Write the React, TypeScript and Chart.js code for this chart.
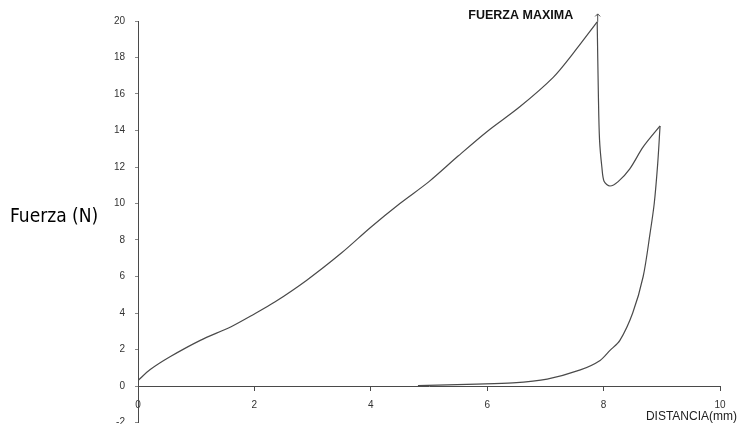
import React, { useEffect, useRef } from "react";
import { Chart, registerables } from "chart.js";

Chart.register(...registerables);

// Loading curve (distance mm, force N)
const loadX = [0, 0.21, 0.55, 1.07, 1.6, 2.0, 2.35, 2.9, 3.5, 4.0, 4.5, 5.0, 5.5, 6.0, 6.56, 7.13, 7.47, 7.89];
const loadY = [0.3, 0.9, 1.6, 2.5, 3.25, 3.95, 4.6, 5.8, 7.3, 8.7, 10.0, 11.2, 12.6, 13.95, 15.3, 16.9, 18.2, 19.95];

// Drop after maximum force and second rise
const dropX = [7.89, 7.91, 7.93, 7.97, 8.01, 8.11, 8.25, 8.45, 8.68, 8.97];
const dropY = [19.95, 16.0, 13.5, 12.0, 11.2, 10.96, 11.2, 11.9, 13.1, 14.25];

// Return (unloading) curve
const returnX = [8.97, 8.93, 8.87, 8.8, 8.68, 8.5, 8.28, 8.11, 7.94, 7.6, 7.03, 6.44, 5.82, 4.81];
const returnY = [14.25, 12.2, 10.0, 8.4, 6.0, 4.0, 2.5, 1.95, 1.4, 0.88, 0.38, 0.17, 0.1, 0.02];

const xTicks = [0, 2, 4, 6, 8, 10];
const yTicks = [-2, 0, 2, 4, 6, 8, 10, 12, 14, 16, 18, 20];

const yTitle = "Fuerza (N)";
const xTitle = "DISTANCIA(mm)";
const peakLabel = "FUERZA MAXIMA";

const toPoints = (xs: number[], ys: number[]) => xs.map((x, i) => ({ x, y: ys[i] }));

const LINE = "#4a4a4a";
const TICKFONT = "Arial, 'Liberation Sans', sans-serif";

export default function App() {
  const ref = useRef<HTMLCanvasElement | null>(null);

  useEffect(() => {
    if (!ref.current) return;
    const seg = (xs: number[], ys: number[]) => ({
      data: toPoints(xs, ys),
      showLine: true,
      borderColor: LINE,
      borderWidth: 1.2,
      pointRadius: 0,
      tension: 0.3,
      fill: false,
    });

    const annotations = {
      id: "annotations",
      afterDraw(chart: any) {
        const ctx = chart.ctx;
        const xs = chart.scales.x;
        const ys = chart.scales.y;
        ctx.save();
        // y title
        ctx.fillStyle = "#000";
        ctx.font = "19px 'DejaVu Sans Condensed', 'DejaVu Sans', sans-serif";
        ctx.textAlign = "left";
        ctx.textBaseline = "middle";
        ctx.fillText(yTitle, 10, 217);
        // x title
        ctx.font = "12px Arial, 'Liberation Sans', sans-serif";
        ctx.fillStyle = "#222";
        ctx.textAlign = "right";
        ctx.fillText(xTitle, 737, 417);
        // peak marker
        const px = xs.getPixelForValue(loadX[loadX.length - 1]);
        const py = ys.getPixelForValue(loadY[loadY.length - 1]);
        ctx.strokeStyle = LINE;
        ctx.lineWidth = 1;
        ctx.beginPath();
        ctx.moveTo(px + 0.5, py);
        ctx.lineTo(px + 0.5, py - 8);
        ctx.moveTo(px - 2, py - 5.5);
        ctx.lineTo(px + 0.5, py - 8);
        ctx.lineTo(px + 3, py - 5.5);
        ctx.stroke();
        ctx.font = "bold 12.5px Arial, 'Liberation Sans', sans-serif";
        ctx.fillStyle = "#111";
        ctx.textAlign = "right";
        ctx.fillText(peakLabel, px - 24, py - 6);
        ctx.restore();
      },
    };

    const chart = new Chart(ref.current, {
      type: "scatter",
      data: {
        datasets: [seg(loadX, loadY), seg(dropX, dropY), seg(returnX, returnY)],
      },
      options: {
        animation: false,
        responsive: false,
        layout: { padding: { left: 108, right: 19, top: 21, bottom: 1.5 } },
        plugins: { legend: { display: false }, tooltip: { enabled: false } },
        scales: {
          x: {
            type: "linear",
            position: { y: 0 } as any,
            min: 0,
            max: 10,
            afterBuildTicks: (s: any) => {
              s.ticks = xTicks.map((v) => ({ value: v }));
            },
            afterFit: (s: any) => {
              s.paddingLeft = 0;
              s.paddingRight = 0;
              s.paddingTop = 0;
              s.paddingBottom = 0;
            },
            border: { display: true, color: LINE, width: 1 },
            grid: { drawOnChartArea: false, drawTicks: true, tickLength: 4, color: LINE },
            ticks: {
              color: "#333",
              font: { family: TICKFONT, size: 10 },
              padding: 9,
              maxRotation: 0,
              autoSkip: false,
            },
          },
          y: {
            type: "linear",
            position: "left",
            min: -2,
            max: 20,
            afterBuildTicks: (s: any) => {
              s.ticks = yTicks.map((v) => ({ value: v }));
            },
            afterFit: (s: any) => {
              s.width = 30;
              s.paddingLeft = 0;
              s.paddingRight = 0;
              s.paddingTop = 0;
              s.paddingBottom = 0;
            },
            border: { display: true, color: LINE, width: 1 },
            grid: { drawOnChartArea: false, drawTicks: true, tickLength: 3, color: "#888" },
            ticks: {
              color: "#333",
              font: { family: TICKFONT, size: 10 },
              padding: 10,
              autoSkip: false,
            },
          },
        },
      },
      plugins: [annotations],
    });
    return () => chart.destroy();
  }, []);

  return (
    <div style={{ position: "fixed", left: 0, top: 0, width: 739, height: 424, background: "#fff" }}>
      <canvas ref={ref} width={739} height={424} style={{ display: "block" }} />
    </div>
  );
}
